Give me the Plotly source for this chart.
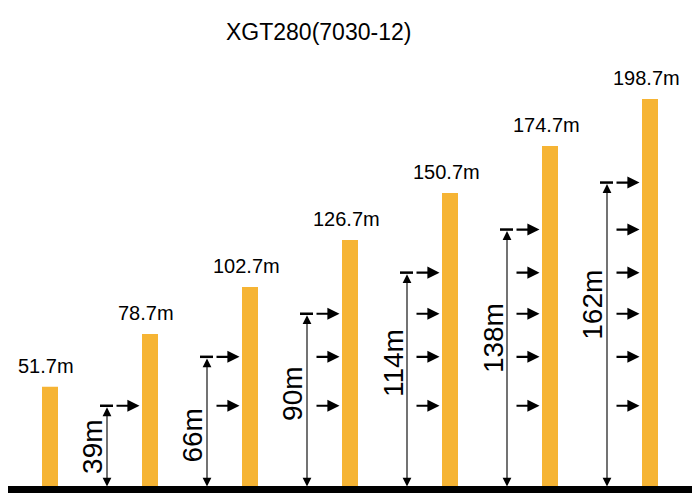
import plotly.graph_objects as go

# ---- data ----
tower_heights = [51.7, 78.7, 102.7, 126.7, 150.7, 174.7, 198.7]
height_labels = ["51.7m", "78.7m", "102.7m", "126.7m", "150.7m", "174.7m", "198.7m"]
tie_levels = [42, 67, 89, 110, 132, 156]          # drawn tie-in levels (m)
free_labels = ["39m", "66m", "90m", "114m", "138m", "162m"]
title_text = "XGT280(7030-12)"

# ---- styling / layout ----
BAR_COLOR = "#F6B434"
SANS = "Liberation Sans, Arial, sans-serif"
LABEL_FRAC = [0.5, 0.4, 0.54, 0.58, 0.58, 0.6]   # where each dimension label sits along its line

x_pos = list(range(len(tower_heights)))

fig = go.Figure()
fig.add_trace(go.Bar(x=x_pos, y=tower_heights, width=0.16,
                     marker=dict(color=BAR_COLOR, line=dict(width=0)),
                     hoverinfo="skip"))

ann = []
shapes = []

# height labels above bars
for xi, h, lab in zip(x_pos, tower_heights, height_labels):
    ann.append(dict(x=xi, y=h, text=lab, showarrow=False, xanchor="center",
                    yanchor="bottom", xshift=-4, yshift=8,
                    font=dict(family=SANS, size=20, color="black")))

# tie-in arrows and dimension lines
for i in range(1, len(tower_heights)):
    dim_x = i - 0.43
    levels = tie_levels[:i]
    top = levels[-1]
    for lv in levels:
        ann.append(dict(x=i - 0.105, y=lv, ax=dim_x + 0.08, ay=lv,
                        xref="x", yref="y", axref="x", ayref="y",
                        text="", showarrow=True, arrowhead=2, arrowsize=1.1,
                        arrowwidth=2.2, arrowcolor="black", standoff=0,
                        startstandoff=0))
    # top tick
    shapes.append(dict(type="line", xref="x", yref="y", x0=dim_x - 0.07, x1=dim_x + 0.06,
                       y0=top, y1=top, line=dict(color="black", width=2.5)))
    # double-headed dimension arrow
    ann.append(dict(x=dim_x, y=top - 0.8, ax=dim_x, ay=0,
                    xref="x", yref="y", axref="x", ayref="y",
                    text="", showarrow=True, arrowhead=2, startarrowhead=2,
                    arrowside="end+start", arrowsize=1.6, startarrowsize=1.6,
                    arrowwidth=1.1, arrowcolor="black", standoff=0, startstandoff=0))
    # dimension label
    ann.append(dict(x=dim_x, y=top * LABEL_FRAC[i - 1], text=free_labels[i - 1],
                    showarrow=False, textangle=-90, xanchor="center", yanchor="middle",
                    xshift=-14, font=dict(family=SANS, size=28, color="black")))

# ground line
shapes.append(dict(type="rect", xref="paper", yref="y", x0=0, x1=1, y0=-2.6, y1=1.0,
                   fillcolor="black", line=dict(width=0), layer="above"))

# title
ann.append(dict(xref="paper", yref="paper", x=310 / 700, y=1 - 24 / 500, text=title_text,
                showarrow=False, xanchor="center", yanchor="middle",
                font=dict(family=SANS, size=23, color="black")))

fig.update_layout(
    width=700, height=500,
    margin=dict(l=0, r=0, t=0, b=0),
    paper_bgcolor="white", plot_bgcolor="white",
    showlegend=False,
    xaxis=dict(range=[-0.42, 6.58], visible=False, fixedrange=True),
    yaxis=dict(range=[-10.21, 245.15], visible=False, fixedrange=True),
    annotations=ann, shapes=shapes,
)

fig.write_html("out.html")
